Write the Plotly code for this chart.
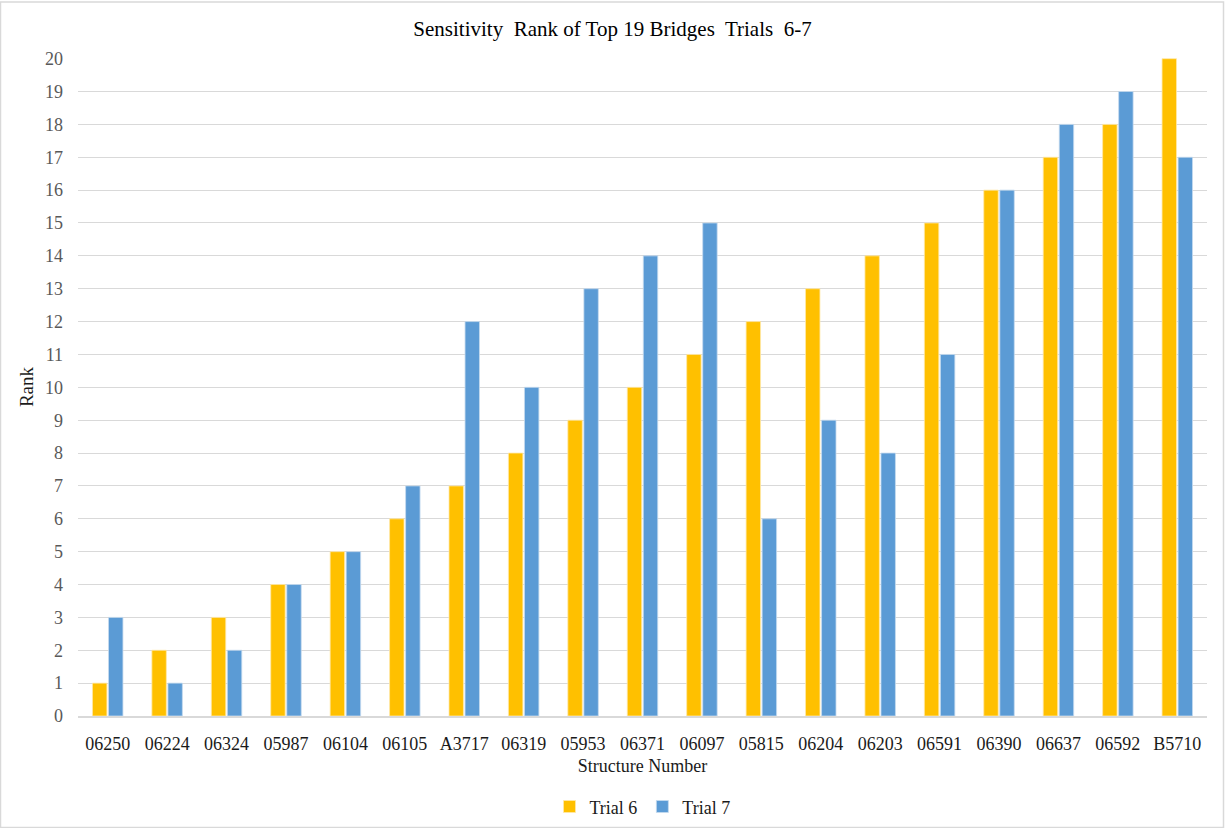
import plotly.graph_objects as go

structures = ["06250", "06224", "06324", "05987", "06104", "06105", "A3717", "06319",
              "05953", "06371", "06097", "05815", "06204", "06203", "06591", "06390",
              "06637", "06592", "B5710"]
trial6 = [1, 2, 3, 4, 5, 6, 7, 8, 9, 10, 11, 12, 13, 14, 15, 16, 17, 18, 20]
trial7 = [3, 1, 2, 4, 5, 7, 12, 10, 13, 14, 15, 6, 9, 8, 11, 16, 18, 19, 17]
y_ticks = list(range(0, 21))

FONT = "'Liberation Serif', 'Times New Roman', serif"
GOLD = "#FFC000"
BLUE = "#5B9BD5"

fig = go.Figure()
fig.add_trace(go.Bar(name="Trial 6", x=structures, y=trial6,
                     marker=dict(color=GOLD, line=dict(color="#FFE9A8", width=0.8))))
fig.add_trace(go.Bar(name="Trial 7", x=structures, y=trial7,
                     marker=dict(color=BLUE, line=dict(color="#C5DBEF", width=0.8))))

fig.update_layout(
    width=1225, height=828,
    margin=dict(l=78, r=18, t=58, b=112, autoexpand=False),
    paper_bgcolor="white", plot_bgcolor="white",
    font=dict(family=FONT, color="#262626"),
    barmode="group", bargap=0.46, bargroupgap=0.1,
    title=dict(text="Sensitivity  Rank of Top 19 Bridges  Trials  6-7",
               x=0.5, xanchor="center", y=0.965, yanchor="middle",
               font=dict(family=FONT, size=21, color="#000000")),
    xaxis=dict(
        automargin=False,
        showgrid=False, showline=True, linecolor="#D9D9D9", linewidth=1.5,
        ticks="", tickfont=dict(family=FONT, size=18, color="#1a1a1a"),
        ticklabelstandoff=11,
        title=dict(text="Structure Number", font=dict(family=FONT, size=18, color="#1a1a1a"),
                   standoff=6),
    ),
    yaxis=dict(
        automargin=False,
        range=[0, 20.02], tickvals=y_ticks, showgrid=True, gridcolor="#D9D9D9", gridwidth=1,
        zeroline=False, ticks="", tickfont=dict(family=FONT, size=18, color="#595959"),
        ticklabelstandoff=14,
        title=dict(text="Rank", font=dict(family=FONT, size=19, color="#1a1a1a"), standoff=6),
    ),
    legend=dict(orientation="h", x=0.5, xanchor="center", y=-0.138, yanchor="middle",
                font=dict(family=FONT, size=18, color="#1a1a1a"), itemwidth=30,
                traceorder="normal"),
    shapes=[dict(type="rect", xref="paper", yref="paper",
                 x0=-77.5 / 1129, x1=1 + 16.5 / 1129,
                 y0=-111.5 / 658, y1=1 + 56 / 658,
                 line=dict(color="#D9D9D9", width=1.5), fillcolor="rgba(0,0,0,0)")],
)

fig.write_html("out.html")
